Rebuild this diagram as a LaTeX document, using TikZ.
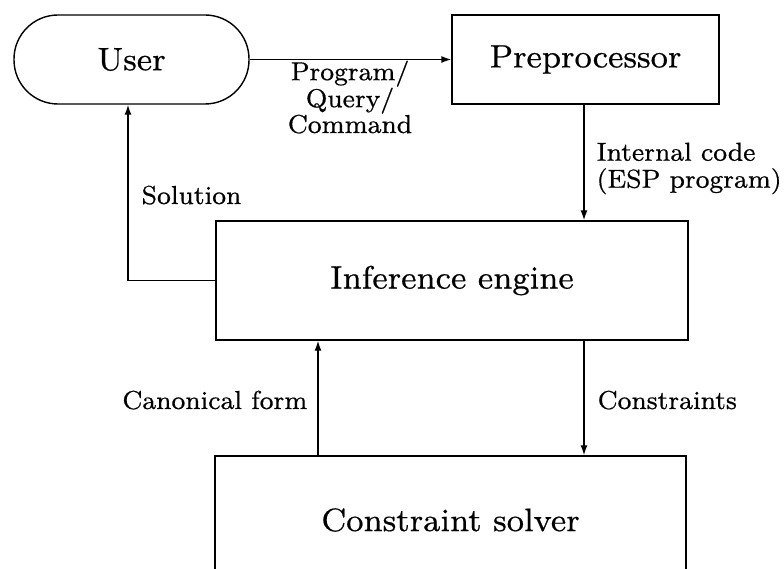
\documentclass[tikz,border=0pt]{standalone}
\usepackage{fontspec}
\setmainfont{lmroman8-regular.otf}[FakeBold=0.5]
\usetikzlibrary{arrows.meta}
\begin{document}
\begin{tikzpicture}[x=1pt,y=-1pt,line width=1.4pt,
  box/.style={draw,rectangle,inner sep=0pt,font=\fontsize{32.5}{40}\selectfont},
  lbl/.style={inner sep=0pt,font=\fontsize{26}{23.5}\selectfont},
  arr/.style={-{Latex[length=10pt,width=7pt]}}]
\useasboundingbox (0,0) rectangle (784,569);
\clip (0,0) rectangle (784,569);
\node[box,rounded corners=44pt,minimum width=235pt,minimum height=89pt] (user) at (131.5,59.5) {User};
\node[box,minimum width=267pt,minimum height=89pt] (pre) at (585.5,59.5) {Preprocessor};
\node[box,minimum width=472pt,minimum height=119pt] (inf) at (452,280.5) {Inference engine};
\node[box,minimum width=471pt,minimum height=128pt] (solver) at (450.5,520) {Constraint solver};
\coordinate (cx) at (318,0);
\coordinate (dx) at (584,0);
\coordinate (sx) at (128,0);
\draw[arr] (user.east) -- (pre.west);
\draw[arr] (pre.south -| dx) -- (inf.north -| dx);
\draw[arr] (inf.west) -| (user.south -| sx);
\draw[arr] (solver.north -| cx) -- (inf.south -| cx);
\draw[arr] (inf.south -| dx) -- (solver.north -| dx);
\node[lbl,align=center,anchor=north] (plbl) at (350,60) {Program/\\Query/\\Command};
\node[lbl,align=left,anchor=north west,font=\fontsize{26}{27}\selectfont] (ilbl) at (596,142) {Internal code\\(ESP program)};
\node[lbl,anchor=base west] (slbl) at (141,204) {Solution};
\node[lbl,anchor=base east] (clbl) at (308,409) {Canonical form};
\node[lbl,anchor=base west] (tlbl) at (597,409) {Constraints};
\end{tikzpicture}
\end{document}
